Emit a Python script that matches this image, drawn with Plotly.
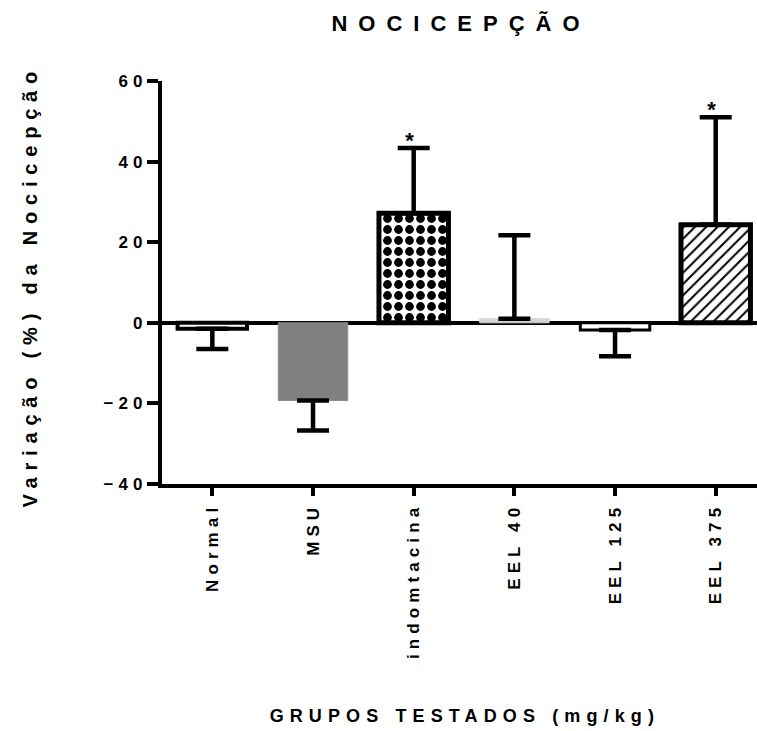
import plotly.graph_objects as go

categories = ["Normal", "MSU", "indomtacina", "EEL 40", "EEL 125", "EEL 375"]
means = [-1.5, -19.3, 27.2, 1.0, -1.8, 24.3]
err_up = [0, 0, 16.2, 20.7, 0, 26.7]
err_down = [5.0, 7.4, 0, 0, 6.5, 0]
signif = ["", "", "*", "", "", "*"]
y_ticks = [-40, -20, 0, 20, 40, 60]

title_text = "NOCICEPÇÃO"
y_title = "Variação (%) da Nocicepção"
x_title = "GRUPOS TESTADOS (mg/kg)"

FONT = "Liberation Sans, Arial, sans-serif"

fill_colors = ["white", "#808080", "white", "#d4d4d4", "white", "white"]
line_colors = ["black", "#8c8c8c", "black", "#d4d4d4", "black", "black"]
line_widths = [4, 1, 5, 1, 3, 5]
pat_shapes = ["", "", ".", "", "", "/"]
pat_sizes = [8, 8, 11, 8, 8, 8]
pat_solid = [0.3, 0.3, 0.5, 0.3, 0.3, 0.25]

fig = go.Figure()
for i, c in enumerate(categories):
    marker = dict(color=fill_colors[i],
                  line=dict(color=line_colors[i], width=line_widths[i]))
    if pat_shapes[i]:
        marker["pattern"] = dict(shape=pat_shapes[i], size=pat_sizes[i],
                                 solidity=pat_solid[i], fgcolor="black",
                                 bgcolor=fill_colors[i], fillmode="replace")
    fig.add_trace(go.Bar(
        x=[c], y=[means[i]], width=0.69, name=c,
        marker=marker,
        error_y=dict(type="data", symmetric=False, array=[err_up[i]],
                     arrayminus=[err_down[i]], color="black", thickness=4.5, width=16),
        showlegend=False,
    ))

for c, m, e, s in zip(categories, means, err_up, signif):
    if s:
        fig.add_annotation(x=c, y=m + e, text="<b>" + s + "</b>", showarrow=False,
                           yanchor="bottom", yshift=-7,
                           font=dict(family=FONT, size=22, color="black"))

fig.add_annotation(xref="paper", yref="paper", x=0.509, y=-0.576,
                   text="<b>" + x_title + "</b>", showarrow=False,
                   xanchor="center", yanchor="middle",
                   font=dict(family=FONT, size=18, color="black"))
fig.add_annotation(xref="paper", yref="paper", x=-0.222, y=0.491,
                   text="<b>" + y_title + "</b>", showarrow=False, textangle=-90,
                   xanchor="center", yanchor="middle",
                   font=dict(family=FONT, size=20, color="black"))

fig.update_layout(
    width=757, height=731,
    margin=dict(l=162, r=0, t=81, b=247),
    plot_bgcolor="white", paper_bgcolor="white",
    title=dict(text="<b>" + title_text + "</b>", x=0.609, xref="container",
               xanchor="center", y=1 - 23 / 731, yref="container", yanchor="middle",
               font=dict(family=FONT, size=22, color="black")),
    font=dict(family=FONT, color="black"),
    barmode="overlay",
)
fig.update_xaxes(
    range=[-0.5, 5.41], showline=True, linecolor="black", linewidth=4,
    ticks="outside", ticklen=8, tickwidth=4, tickcolor="black",
    tickangle=-90, tickfont=dict(family=FONT, size=17, weight="bold"),
    showgrid=False, zeroline=False,
)
fig.update_yaxes(
    range=[-40, 60], tickvals=y_ticks, showline=True, linecolor="black", linewidth=4,
    ticks="outside", ticklen=11, tickwidth=4, tickcolor="black",
    tickfont=dict(family=FONT, size=17, weight="bold"), ticklabelstandoff=-4,
    showgrid=False, zeroline=True, zerolinecolor="black", zerolinewidth=4,
)

post = """
var s = document.createElement('style');
s.innerHTML = '.gtitle{letter-spacing:0.5em} .xtick text,.ytick text{letter-spacing:0.3em} .annotation-text{letter-spacing:0.34em}';
document.head.appendChild(s);
"""
fig.write_html("out.html", post_script=post)
